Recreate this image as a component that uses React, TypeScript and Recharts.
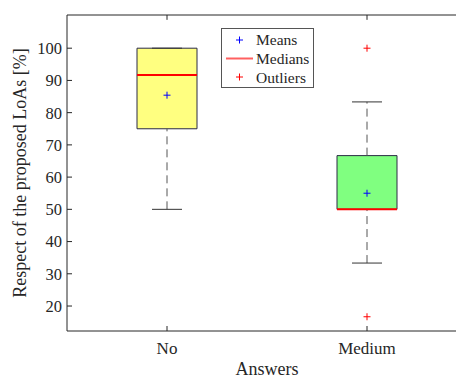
import { ComposedChart, XAxis, YAxis, ReferenceArea, ReferenceLine, Scatter } from 'recharts';

const categories = ['No', 'Medium'];
const q1 = [75, 50];
const q3 = [100, 66.67];
const medians = [91.67, 50];
const means = [85.42, 55];
const whiskerLow = [50, 33.33];
const whiskerHigh = [100, 83.33];
const outliers = [[], [100, 16.67]];
const yTicks = [20, 30, 40, 50, 60, 70, 80, 90, 100];
const boxColors = ['#ffff80', '#80ff80'];

const FONT = 'Liberation Serif';
const INK = '#262626';
const BOX_HALF = 0.15;
const CAP_HALF = 0.075;
const Y_MAX = 110.3;

const meanPoints = means.map((m, i) => ({ x: i + 1, y: m }));
const outlierPoints = outliers.flatMap((list, i) => list.map((v) => ({ x: i + 1, y: v })));

const Plus = (color: string) => (props: any) => {
  const { cx, cy } = props;
  if (cx == null || cy == null) return null;
  return (
    <g stroke={color} strokeWidth={1}>
      <line x1={cx - 3.5} y1={cy} x2={cx + 3.5} y2={cy} />
      <line x1={cx} y1={cy - 3.5} x2={cx} y2={cy + 3.5} />
    </g>
  );
};

// legend drawn as an overlay so it doesn't push the plot area down
const LegendBox = () => (
  <div
    style={{
      position: 'absolute',
      left: 221,
      top: 28,
      width: 91,
      height: 58,
      border: '1px solid #555',
      background: '#fff',
      fontFamily: FONT,
      fontSize: 15.5,
      color: INK,
    }}
  >
    <svg width={32} height={58} style={{ position: 'absolute', left: 0, top: 0 }}>
      <g stroke="#0000ff">
        <line x1={14} y1={11} x2={21} y2={11} />
        <line x1={17.5} y1={7.5} x2={17.5} y2={14.5} />
      </g>
      <line x1={4} y1={29.5} x2={31} y2={29.5} stroke="#ff6060" strokeWidth={2} />
      <g stroke="#ff0000">
        <line x1={14} y1={48} x2={21} y2={48} />
        <line x1={17.5} y1={44.5} x2={17.5} y2={51.5} />
      </g>
    </svg>
    <div style={{ position: 'absolute', left: 34, top: 1, lineHeight: '19px' }}>
      <div>Means</div>
      <div>Medians</div>
      <div>Outliers</div>
    </div>
  </div>
);

export default function App() {
  return (
    <div style={{ position: 'absolute', left: 0, top: 0, width: 456, height: 379, overflow: 'hidden', background: '#fff' }}>
      <ComposedChart width={470} height={379} margin={{ top: 15, right: 3, bottom: 0, left: 0 }}>
        <XAxis
          xAxisId="b"
          type="number"
          dataKey="x"
          domain={[0.5, 2.5]}
          ticks={[1, 2]}
          tickFormatter={(v: number) => categories[v - 1] ?? ''}
          height={48}
          stroke={INK}
          tickSize={-5}
          tickMargin={16}
          tick={{ fill: INK, fontFamily: FONT, fontSize: 17 }}
          label={{ value: 'Answers', position: 'insideBottom', offset: 4, fill: INK, fontFamily: FONT, fontSize: 18 }}
        />
        <YAxis
          type="number"
          domain={[12.25, Y_MAX]}
          ticks={yTicks}
          width={67}
          stroke={INK}
          tickSize={-5}
          tickMargin={10}
          tick={{ fill: INK, fontFamily: FONT, fontSize: 16.5 }}
          label={{
            value: 'Respect of the proposed LoAs [%]',
            angle: -90,
            position: 'insideLeft',
            offset: 20,
            style: { textAnchor: 'middle', fill: INK, fontFamily: FONT, fontSize: 18 },
          }}
        />
        <ReferenceLine xAxisId="b" y={Y_MAX} stroke={INK} />
        {categories.map((c, i) => (
          <ReferenceLine
            key={'tt' + c}
            xAxisId="b"
            segment={[{ x: i + 1, y: Y_MAX }, { x: i + 1, y: Y_MAX - 1.5 }]}
            stroke={INK}
          />
        ))}
        {categories.map((c, i) => (
          <ReferenceLine
            key={'wl' + c}
            xAxisId="b"
            segment={[{ x: i + 1, y: whiskerLow[i] }, { x: i + 1, y: q1[i] }]}
            stroke="#555"
            strokeDasharray="8 5"
          />
        ))}
        {categories.map((c, i) => (
          <ReferenceLine
            key={'wh' + c}
            xAxisId="b"
            segment={[{ x: i + 1, y: q3[i] }, { x: i + 1, y: whiskerHigh[i] }]}
            stroke="#555"
            strokeDasharray="8 5"
          />
        ))}
        {categories.map((c, i) => (
          <ReferenceLine
            key={'cl' + c}
            xAxisId="b"
            segment={[{ x: i + 1 - CAP_HALF, y: whiskerLow[i] }, { x: i + 1 + CAP_HALF, y: whiskerLow[i] }]}
            stroke="#333"
          />
        ))}
        {categories.map((c, i) => (
          <ReferenceLine
            key={'ch' + c}
            xAxisId="b"
            segment={[{ x: i + 1 - CAP_HALF, y: whiskerHigh[i] }, { x: i + 1 + CAP_HALF, y: whiskerHigh[i] }]}
            stroke="#333"
          />
        ))}
        {categories.map((c, i) => (
          <ReferenceArea
            key={'box' + c}
            xAxisId="b"
            x1={i + 1 - BOX_HALF}
            x2={i + 1 + BOX_HALF}
            y1={q1[i]}
            y2={q3[i]}
            fill={boxColors[i]}
            fillOpacity={1}
            stroke="#2a2a44"
            strokeWidth={1}
          />
        ))}
        {categories.map((c, i) => (
          <ReferenceLine
            key={'med' + c}
            xAxisId="b"
            segment={[{ x: i + 1 - BOX_HALF, y: medians[i] }, { x: i + 1 + BOX_HALF, y: medians[i] }]}
            stroke="#ff0000"
            strokeWidth={2}
          />
        ))}
        <Scatter xAxisId="b" data={meanPoints} dataKey="y" shape={Plus('#0000ff')} isAnimationActive={false} />
        <Scatter xAxisId="b" data={outlierPoints} dataKey="y" shape={Plus('#ff0000')} isAnimationActive={false} />
      </ComposedChart>
      <LegendBox />
    </div>
  );
}
